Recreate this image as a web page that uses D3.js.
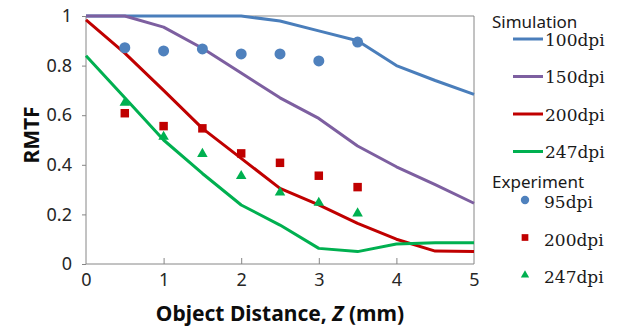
<!DOCTYPE html>
<html>
<head>
<meta charset="utf-8">
<script src="https://cdn.jsdelivr.net/npm/d3@7"></script>
<style>
  body { margin: 0; background: #fff; }
  .tick text { font-family: "Noto Sans", sans-serif; font-size: 18px; fill: #262626; }
  .axis path, .axis line { stroke: #868686; }
</style>
</head>
<body>
<script>
//data
var distance = [0, 0.5, 1, 1.5, 2, 2.5, 3, 3.5, 4, 4.5, 5]; //object distance Z (mm)
var sim100 = [1, 1, 1, 1, 1, 0.98, 0.94, 0.9, 0.8, 0.74, 0.684];
var sim150 = [1, 1, 0.955, 0.87, 0.77, 0.67, 0.587, 0.476, 0.392, 0.32, 0.245];
var sim200 = [0.984, 0.85, 0.7, 0.547, 0.426, 0.305, 0.238, 0.164, 0.1, 0.052, 0.05];
var sim247 = [0.84, 0.67, 0.5, 0.365, 0.238, 0.157, 0.063, 0.05, 0.081, 0.086, 0.086];
var expDistance = [0.5, 1, 1.5, 2, 2.5, 3, 3.5];
var exp95 = [0.872, 0.859, 0.867, 0.847, 0.847, 0.819, 0.895];
var exp200 = [0.608, 0.556, 0.547, 0.446, 0.408, 0.356, 0.31];
var exp247 = [0.65, 0.513, 0.444, 0.355, 0.288, 0.247, 0.204];
var xTicks = [0, 1, 2, 3, 4, 5];
var yTicks = [0, 0.2, 0.4, 0.6, 0.8, 1];
var simNames = ["100dpi", "150dpi", "200dpi", "247dpi"];
var expNames = ["95dpi", "200dpi", "247dpi"];

(function draw(){
  var width = 617, height = 328;
  var margin = {left: 86, right: 143, top: 16, bottom: 64};

  var svg = d3.select("body").append("svg")
    .attr("width", width)
    .attr("height", height);

  var x = d3.scaleLinear().domain([0, 5]).range([margin.left, width - margin.right]);
  var y = d3.scaleLinear().domain([0, 1]).range([height - margin.bottom, margin.top]);

  //plot area border (top and right)
  svg.append("path")
    .attr("d", "M" + x(0) + "," + y(1) + "H" + x(5) + "V" + y(0))
    .attr("fill", "none")
    .attr("stroke", "#868686");

  //axes
  svg.append("g")
    .attr("class", "axis")
    .attr("transform", "translate(0," + y(0) + ")")
    .call(d3.axisBottom(x).tickValues(xTicks).tickSize(-6).tickPadding(10).tickFormat(d3.format("d")))
    .call(function(g){ g.select(".domain").attr("d", "M" + x(0) + ",0H" + x(5)); })
    .call(function(g){ g.selectAll(".tick text").attr("dy", "0.71em").attr("y", 9); })
    .call(function(g){ g.selectAll(".tick line").filter(function(d){ return d === 0 || d === 5; }).remove(); });

  svg.append("g")
    .attr("class", "axis")
    .attr("transform", "translate(" + x(0) + ",0)")
    .call(d3.axisLeft(y).tickValues(yTicks).tickSize(4).tickPadding(10).tickFormat(function(d){ return d === 0 || d === 1 ? d : d3.format(".1f")(d); }))
    .call(function(g){ g.select(".domain").attr("d", "M0," + y(0) + "V" + y(1)); });

  //simulation lines
  var simSeries = [sim100, sim150, sim200, sim247];
  var simColors = ["#4a7ebb", "#7d5fa0", "#c00000", "#00b050"];
  var line = d3.line()
    .x(function(d, i){ return x(distance[i]); })
    .y(function(d){ return y(d); });

  svg.selectAll(".simLine")
    .data(simSeries)
    .enter()
    .append("path")
    .attr("class", "simLine")
    .attr("d", line)
    .attr("fill", "none")
    .attr("stroke", function(d, i){ return simColors[i]; })
    .attr("stroke-width", 3)
    .attr("stroke-linejoin", "round");

  //experiment markers
  var circle = d3.symbol().type(d3.symbolCircle).size(95);
  var square = d3.symbol().type(d3.symbolSquare).size(72);
  var triangle = d3.symbol().type(d3.symbolTriangle).size(48);
  var expSeries = [
    {values: exp95, color: "#4f81bd", sym: circle},
    {values: exp200, color: "#c00000", sym: square},
    {values: exp247, color: "#00b050", sym: triangle}
  ];

  expSeries.forEach(function(s){
    svg.append("g").selectAll("path")
      .data(s.values)
      .enter()
      .append("path")
      .attr("d", s.sym)
      .attr("transform", function(d, i){ return "translate(" + x(expDistance[i]) + "," + y(d) + ")"; })
      .attr("fill", s.color);
  });

  //axis titles
  var xTitle = svg.append("text")
    .attr("x", (x(0) + x(5)) / 2)
    .attr("y", 321)
    .attr("text-anchor", "middle")
    .style("font-family", "'Noto Sans', sans-serif")
    .style("font-size", "21px")
    .style("font-weight", "bold")
    .attr("fill", "#0d0d0d");
  xTitle.append("tspan").text("Object Distance, ");
  xTitle.append("tspan").style("font-style", "italic").text("Z");
  xTitle.append("tspan").text(" (mm)");

  svg.append("text")
    .attr("transform", "translate(39," + (y(0.5) - 5) + ") rotate(-90)")
    .attr("text-anchor", "middle")
    .style("font-family", "'Noto Sans', sans-serif")
    .style("font-size", "21px")
    .style("font-weight", "bold")
    .attr("fill", "#0d0d0d")
    .text("RMTF");

  //legend
  var legend = svg.append("g").attr("class", "legend");
  var headFont = "'Noto Sans', sans-serif", itemFont = "'DejaVu Serif', serif";

  legend.append("text")
    .attr("x", 492).attr("y", 28)
    .style("font-family", headFont).style("font-size", "17px")
    .attr("fill", "#1a1a1a")
    .text("Simulation");

  simNames.forEach(function(name, i){
    var ly = 39 + i * 37.5;
    legend.append("line")
      .attr("x1", 513).attr("x2", 543)
      .attr("y1", ly).attr("y2", ly)
      .attr("stroke", simColors[i])
      .attr("stroke-width", 3);
    legend.append("text")
      .attr("x", 545).attr("y", ly + 6.5)
      .style("font-family", itemFont).style("font-size", "17px")
      .attr("fill", "#1a1a1a")
      .text(name);
  });

  legend.append("text")
    .attr("x", 492).attr("y", 188)
    .style("font-family", headFont).style("font-size", "17px")
    .attr("fill", "#1a1a1a")
    .text("Experiment");

  var legendSyms = [
    d3.symbol().type(d3.symbolCircle).size(55),
    d3.symbol().type(d3.symbolSquare).size(45),
    d3.symbol().type(d3.symbolTriangle).size(30)
  ];
  expNames.forEach(function(name, i){
    var ly = 200 + i * 37.5;
    legend.append("path")
      .attr("d", legendSyms[i])
      .attr("transform", "translate(525," + ly + ")")
      .attr("fill", expSeries[i].color);
    legend.append("text")
      .attr("x", 544).attr("y", ly + 8)
      .style("font-family", itemFont).style("font-size", "17px")
      .attr("fill", "#1a1a1a")
      .text(name);
  });
})();
</script>
</body>
</html>
